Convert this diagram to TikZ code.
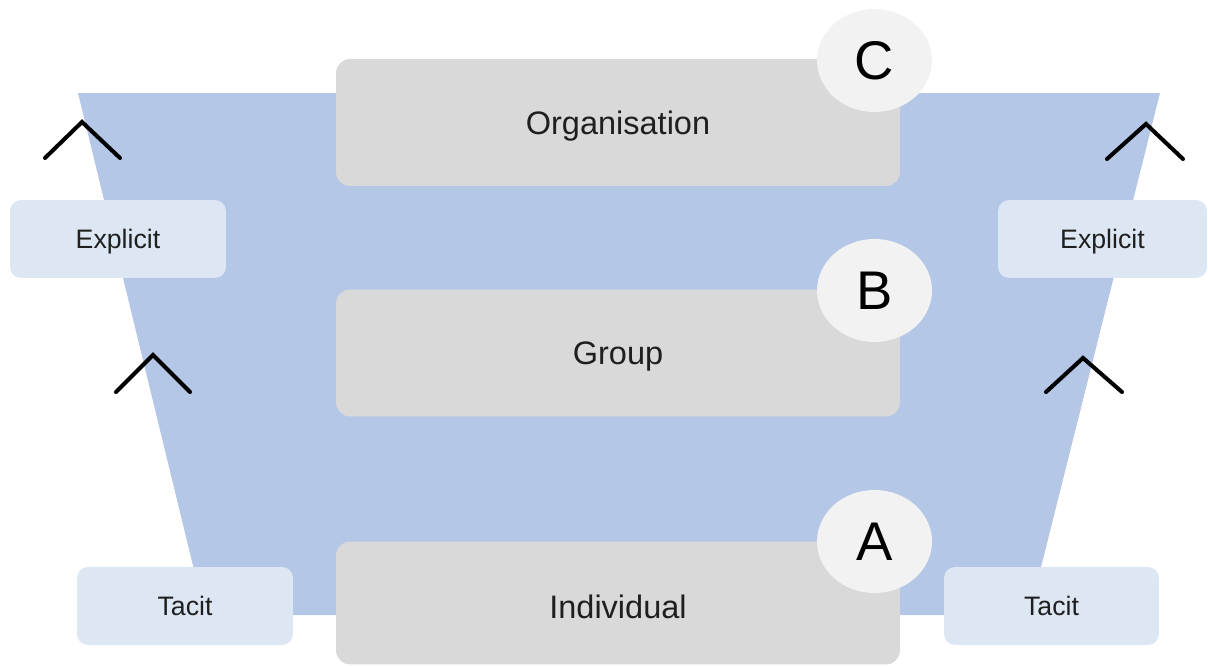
\documentclass[tikz,border=0pt]{standalone}
\usepackage{fontspec}
\setmainfont{Liberation Sans}
\usetikzlibrary{shapes.geometric}
\definecolor{funnelblue}{HTML}{B4C7E7}
\definecolor{levelgray}{HTML}{D9D9D9}
\definecolor{badgegray}{HTML}{F2F2F2}
\definecolor{tagblue}{HTML}{DDE7F4}
\begin{document}
\begin{tikzpicture}[x=0.02cm, y=-0.02cm,
    level/.style={rectangle, rounded corners=0.28cm, fill=levelgray, minimum width=11.28cm, minimum height=2.54cm, text depth=0pt, font=\fontsize{18.5}{22}\selectfont, text=black!88},
    badge/.style={ellipse, fill=badgegray, minimum width=2.3cm, minimum height=2.06cm, inner sep=0pt, text depth=0pt, font=\fontsize{31}{36}\selectfont},
    tag/.style={rectangle, rounded corners=0.22cm, fill=tagblue, minimum width=4.32cm, minimum height=1.56cm, text depth=0pt, font=\fontsize{15.2}{18}\selectfont, text=black!88},
    chevron/.style={line width=2.3pt, line cap=round, line join=miter}]
            \useasboundingbox (0,0) rectangle (1208,666);
            \fill[funnelblue] (78,93) -- (1160,93) -- (1029,615) -- (205,615) -- cycle;
            \node[tag] (explicitL) at (118,239) {Explicit};
            \node[tag, minimum width=4.18cm] (explicitR) at (1102.5,239) {Explicit};
            \node[tag] (tacitL) at (185,606) {Tacit};
            \node[tag, minimum width=4.3cm] (tacitR) at (1051.5,606) {Tacit};
            \node[level] (org) at (618,122.5) {Organisation};
            \node[level] (grp) at (618,353) {Group};
            \node[level, minimum height=2.46cm, text height=0.6cm] (ind) at (618,603) {Individual};
            \node[badge] (C) at (874.5,60.5) {C};
            \node[badge] (B) at (874.5,290.5) {B};
            \node[badge] (A) at (874.5,541.5) {A};
            \draw[chevron] (45,158) -- (82,122) -- (120,158);
            \draw[chevron] (116,392) -- (153,355) -- (190,392);
            \draw[chevron] (1107,159) -- (1146,124) -- (1183,159);
            \draw[chevron] (1046,392) -- (1083,358) -- (1122,392);
        \end{tikzpicture}
\end{document}
